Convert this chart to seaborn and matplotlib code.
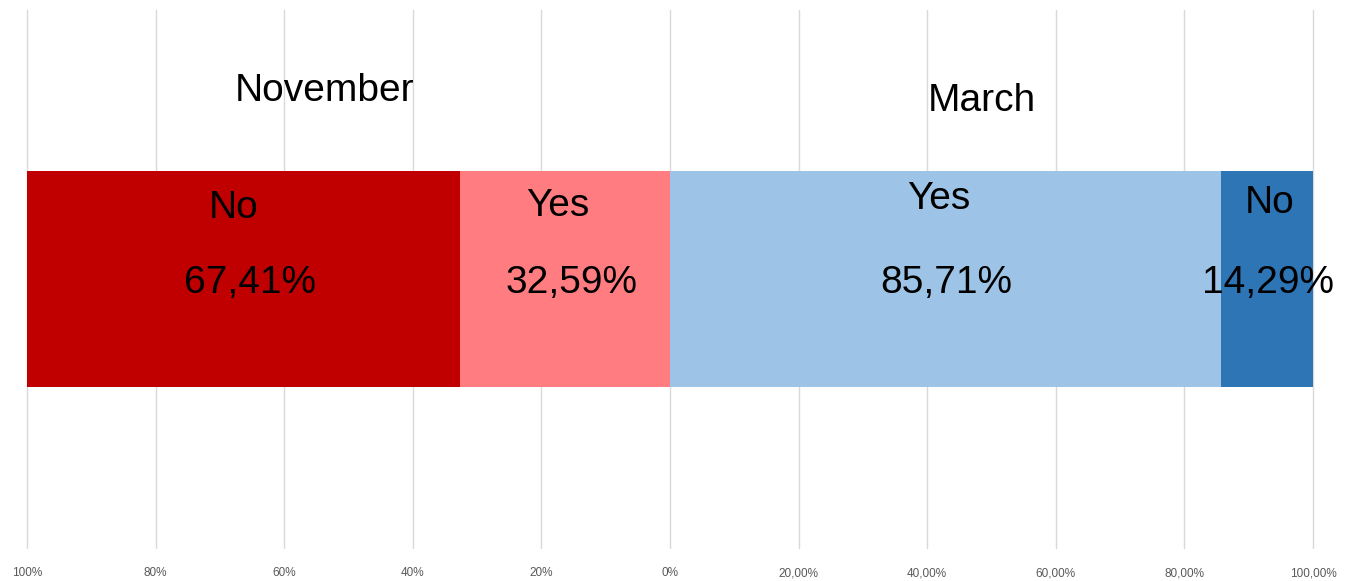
import matplotlib
matplotlib.use("Agg")
import matplotlib.pyplot as plt
import seaborn as sns
import pandas as pd

# Survey answers, share of respondents (%)
periods = ["November", "March"]
answers = ["Yes", "No"]
november_values = [32.59, 67.41]   # Yes, No
march_values = [85.71, 14.29]      # Yes, No

tick_values = [-100, -80, -60, -40, -20, 0, 20, 40, 60, 80, 100]
tick_labels = ["100%", "80%", "60%", "40%", "20%", "0%",
               "20,00%", "40,00%", "60,00%", "80,00%", "100,00%"]

colors = {
    ("November", "Yes"): "#FF7C80",
    ("November", "No"): "#C00000",
    ("March", "Yes"): "#9DC3E6",
    ("March", "No"): "#2E75B6",
}

sns.set_theme(style="white")
plt.rcParams["font.family"] = ["Liberation Sans", "DejaVu Sans"]

fig = plt.figure(figsize=(13.63, 5.81), dpi=100)
ax = fig.add_axes([27 / 1363, 33 / 581, 1286 / 1363, 538 / 581])

row = ["All"]
# November diverges to the left, March to the right; the outer segment is
# drawn as the full cumulative bar and the inner one is layered on top.
for period, vals, sign in [("November", november_values, -1),
                           ("March", march_values, 1)]:
    yes, no = vals
    df_outer = pd.DataFrame({"row": row, "value": [sign * (yes + no)]})
    df_inner = pd.DataFrame({"row": row, "value": [sign * yes]})
    sns.barplot(data=df_outer, x="value", y="row", orient="h", width=1.0,
                color=colors[(period, "No")], saturation=1, ax=ax,
                linewidth=0, zorder=3)
    sns.barplot(data=df_inner, x="value", y="row", orient="h", width=1.0,
                color=colors[(period, "Yes")], saturation=1, ax=ax,
                linewidth=0, zorder=3)

ax.set_xlim(-100, 100)
ax.set_ylim(1.25, -1.25)
ax.set_xticks(tick_values)
ax.set_xticklabels(tick_labels, fontsize=8.5, color="#595959")
ax.tick_params(axis="x", length=0, pad=14)
ax.set_yticks([])
ax.set_xlabel("")
ax.set_ylabel("")
for s in ax.spines.values():
    s.set_visible(False)
ax.grid(axis="x", color="#D9D9D9", linewidth=1, zorder=0)
ax.set_axisbelow(True)
for gl in ax.get_xgridlines():
    gl.set_clip_on(False)

def fmt(v):
    return f"{v:.2f}".replace(".", ",") + "%"

text_kw = dict(ha="center", va="center", fontsize=28, color="black", zorder=5)

# Period titles
ax.text(-53.7, -0.872, "November", **text_kw)
ax.text(48.5, -0.826, "March", **text_kw)

# Segment labels
nov_yes, nov_no = november_values
mar_yes, mar_no = march_values
ax.text(-67.8, -0.33, "No", **text_kw)
ax.text(-65.3, 0.018, fmt(nov_no), **text_kw)
ax.text(-17.5, -0.34, "Yes", **text_kw)
ax.text(-15.3, 0.018, fmt(nov_yes), **text_kw)
ax.text(41.8, -0.37, "Yes", **text_kw)
ax.text(42.9, 0.018, fmt(mar_yes), **text_kw)
ax.text(93.3, -0.355, "No", **text_kw)
ax.text(93.0, 0.018, fmt(mar_no), **text_kw)

fig.savefig("out.png", dpi=100, facecolor="white")
